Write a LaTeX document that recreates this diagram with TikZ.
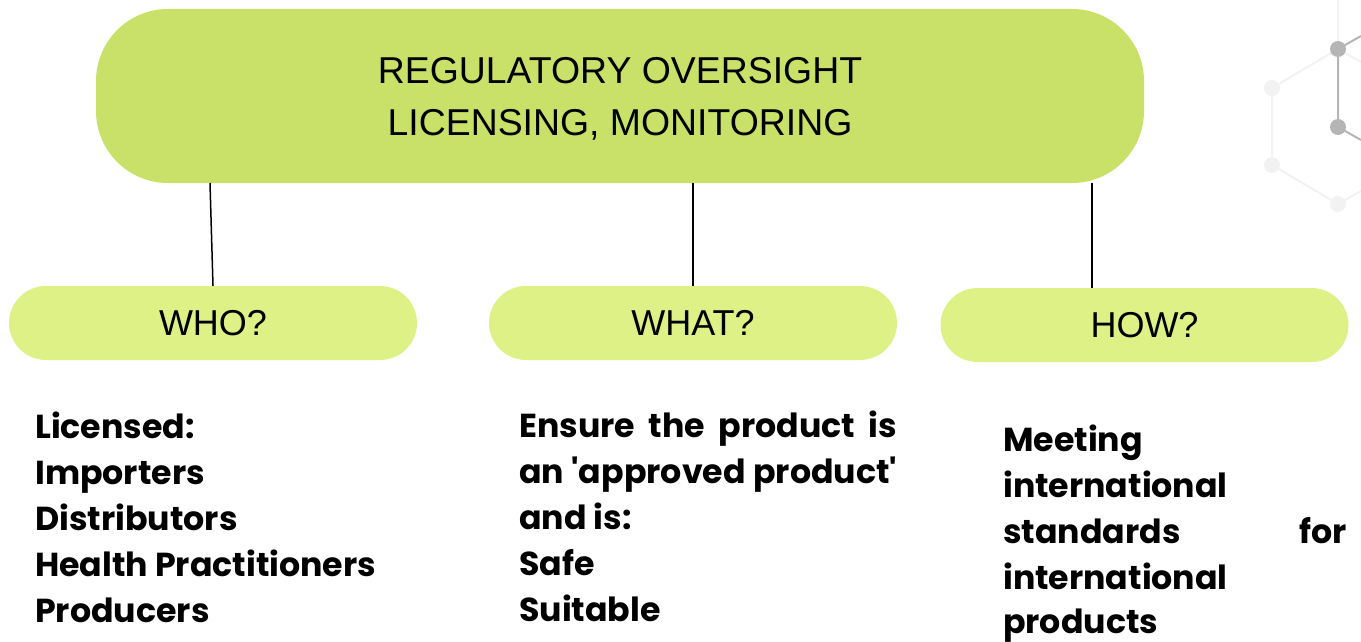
\documentclass[tikz,border=0pt]{standalone}
\usepackage{fontspec}
\setmainfont{Liberation Sans}
\newfontfamily\bodyfont{Poppins}
\definecolor{mainfill}{HTML}{C9E169}
\definecolor{subfill}{HTML}{DDF186}
\definecolor{molDark}{HTML}{B5B5B5}
\definecolor{molLight}{HTML}{F2F2F2}
\newlength\hpw
\begin{document}
\settowidth\hpw{\bodyfont\bfseries\fontsize{10pt}{12pt}\selectfont Health Practitioners}%
\pgfmathsetmacro\bsz{10*341/\hpw}%
\begin{tikzpicture}[x=1pt,y=-1pt,
  mainbox/.style={fill=mainfill, rounded corners=72pt, minimum width=1048pt, minimum height=174pt, inner sep=0pt, align=center, font=\fontsize{37.4pt}{52pt}\selectfont},
  subbox/.style={fill=subfill, rounded corners=37pt, minimum width=408pt, minimum height=74pt, inner sep=0pt, font=\fontsize{36pt}{40pt}\selectfont},
  link/.style={line width=1.5pt, black},
  bodytext/.style={anchor=base west, inner sep=0pt, font=\bodyfont\bfseries\fontsize{\bsz pt}{\bsz pt}\selectfont},
  molD/.style={molDark, line width=2pt},
  molL/.style={molLight, line width=2pt},
]
\useasboundingbox (0,0) rectangle (1361,642);
% molecule decoration
\coordinate (ma) at (1338,49);
\coordinate (mb) at (1338,127);
\coordinate (mc) at (1272,88);
\coordinate (md) at (1272,165);
\coordinate (me) at (1338,204);
\coordinate (e1) at (1338,0);
\coordinate (e2) at (1361,62);
\coordinate (e3) at (1361,36);
\coordinate (e4) at (1361,140);
\coordinate (e5) at (1361,191);
\draw[molL] (e1) -- (ma) -- (e2);
\draw[molL] (ma) -- (mc) -- (md) -- (me) -- (e5);
\fill[molLight] (mc) circle (8) (md) circle (8) (me) circle (8);
\draw[molD] (e3) -- (ma) -- (mb) -- (e4);
\fill[molDark] (ma) circle (8) (mb) circle (8);
% boxes
\node[mainbox] (m) at (620,96) {};
\node[align=center, inner sep=0pt, font=\fontsize{37.4pt}{52pt}\selectfont] (mt) at (620,99) {REGULATORY OVERSIGHT\\LICENSING, MONITORING};
\node[subbox] (who) at (213,323) {WHO?};
\node[subbox] (what) at (693,323) {WHAT?};
\node[subbox] (how) at (1144.5,325) {HOW?};
% connectors
\coordinate (c1) at (210,183);
\coordinate (c2) at (693,183);
\coordinate (c3) at (1092,183);
\draw[link] (c1) -- (who.north);
\draw[link] (c2) -- (what.north);
\draw[link] (c3) -- (how.north -| c3);
% texts
\node[bodytext] (w1) at (35,438) {Licensed:};
\node[bodytext] (w2) at (35,484) {Importers};
\node[bodytext] (w3) at (35,530) {Distributors};
\node[bodytext] (w4) at (35,576) {Health Practitioners};
\node[bodytext] (w5) at (35,622) {Producers};
\node[bodytext] (t1) at (519,437) {\makebox[378pt][s]{Ensure the product is}};
\node[bodytext] (t2) at (519,483) {\makebox[378pt][s]{an 'approved product'}};
\node[bodytext] (t3) at (519,529) {and is:};
\node[bodytext] (t4) at (519,575) {Safe};
\node[bodytext] (t5) at (519,621) {Suitable};
\node[bodytext] (h1) at (1003,451) {Meeting};
\node[bodytext] (h2) at (1003,497) {international};
\node[bodytext] (h3) at (1003,543) {\makebox[344pt][s]{standards for}};
\node[bodytext] (h4) at (1003,589) {international};
\node[bodytext] (h5) at (1003,633) {products};
\end{tikzpicture}
\end{document}
